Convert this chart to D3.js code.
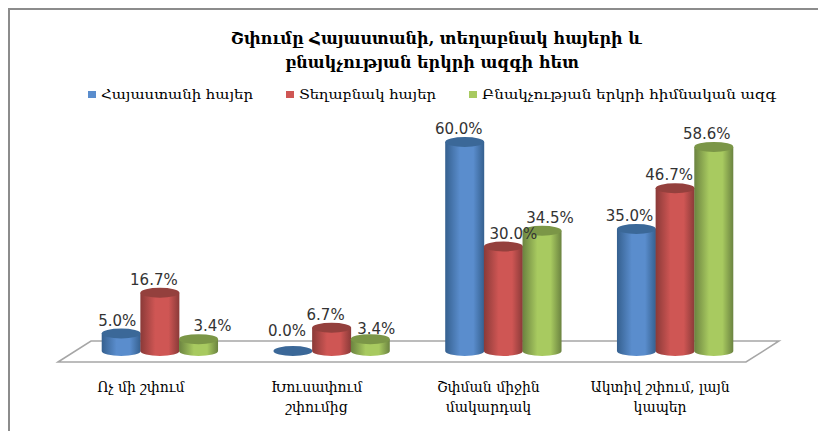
<!DOCTYPE html>
<html>
<head>
<meta charset="utf-8">
<title>Շփումը</title>
<script src="https://d3js.org/d3.v7.min.js"></script>
<style>
    html, body { margin: 0; background: #fff; overflow: hidden; }
    svg { display: block; }
    text { font-family: "DejaVu Serif", serif; fill: #000; }
    .val { font-family: "DejaVu Sans", sans-serif; font-size: 15px; fill: #333; }
</style>
</head>
<body>
<script>
// data
var titleLines = ["Շփումը Հայաստանի, տեղաբնակ հայերի և", "բնակչության երկրի ազգի հետ"];
var series = ["Հայաստանի հայեր", "Տեղաբնակ հայեր", "Բնակչության երկրի հիմնական ազգ"];
var categories = ["Ոչ մի շփում", "Խուսափում շփումից", "Շփման միջին մակարդակ", "Ակտիվ շփում, լայն կապեր"];
var categoryLines = [["Ոչ մի շփում"], ["Խուսափում", "շփումից"], ["Շփման միջին", "մակարդակ"], ["Ակտիվ շփում, լայն", "կապեր"]];
var armenia = [5.0, 0.0, 60.0, 35.0];
var local = [16.7, 6.7, 30.0, 46.7];
var mainNation = [3.4, 3.4, 34.5, 58.6];
var seriesValues = [armenia, local, mainNation];

// label nudges, the original labels were moved by hand
var labelDx = [[-4, -6, -6, -7], [-6, -6, 10, -6], [14, 6, 8, -7]];
var labelDy = [[0, 6, 0, 0], [0, 0, 0, 0], [0, 3, 0, 0]];

var width = 818, height = 431;
var rx = 19.5, ry = 5;
var floorDepthX = 33, floorTop = 341, floorBottom = 362;

var colors = [
    { edge: "#35608f", mid: "#5a8dcd", top: "#3b6898" },
    { edge: "#8a3a38", mid: "#cf5654", top: "#94403d" },
    { edge: "#6b8340", mid: "#a8ca60", top: "#7b9647" }
];

var svg = d3.select("body").append("svg")
    .attr("width", width)
    .attr("height", height);

var x = d3.scaleBand().domain(categories).range([74, 761]);
var xInner = d3.scaleBand().domain(series).range([-58, 58]);
var y = d3.scaleLinear().domain([0, 60]).range([351, 142]);

var defs = svg.append("defs");
colors.forEach(function(c, i) {
    var g = defs.append("linearGradient").attr("id", "cyl" + i);
    g.append("stop").attr("offset", "0%").attr("stop-color", c.edge);
    g.append("stop").attr("offset", "38%").attr("stop-color", c.mid);
    g.append("stop").attr("offset", "72%").attr("stop-color", c.mid);
    g.append("stop").attr("offset", "100%").attr("stop-color", c.edge);
});

// frame
svg.append("path")
    .attr("d", "M9,431V9H818")
    .attr("fill", "none")
    .attr("stroke", "#8c8c8c")
    .attr("stroke-width", 2);

// floor
var floorLeft = x.range()[0] - 16, floorRight = x.range()[1] - 15;
svg.append("path")
    .attr("d", d3.line()([
        [floorLeft, floorBottom], [floorLeft + floorDepthX, floorTop],
        [floorRight + floorDepthX, floorTop], [floorRight, floorBottom]
    ]) + "Z")
    .attr("fill", "#fff")
    .attr("stroke", "#a6a6a6")
    .attr("stroke-width", 1.5);

// cylinders
function cx(i, j) {
    return x(categories[j]) + x.bandwidth() / 2 + xInner(series[i]) + xInner.bandwidth() / 2;
}

seriesValues.forEach(function(values, i) {
    var g = svg.append("g");
    values.forEach(function(v, j) {
        var c = cx(i, j), yTop = y(v), yBase = y(0);
        if (v > 0) {
            g.append("path")
                .attr("d", "M" + (c - rx) + "," + yTop +
                    "V" + yBase +
                    "A" + rx + "," + ry + " 0 0 0 " + (c + rx) + "," + yBase +
                    "V" + yTop + "Z")
                .attr("fill", "url(#cyl" + i + ")");
        }
        g.append("ellipse")
            .attr("cx", c).attr("cy", yTop)
            .attr("rx", rx).attr("ry", ry)
            .attr("fill", colors[i].top);
    });
});

// value labels
seriesValues.forEach(function(values, i) {
    svg.selectAll(".v" + i)
        .data(values)
        .enter()
        .append("text")
        .attr("class", "val v" + i)
        .attr("x", function(d, j) { return cx(i, j) + labelDx[i][j]; })
        .attr("y", function(d, j) { return y(d) - 8 + labelDy[i][j] - (d == 0 ? 13 : 0); })
        .attr("text-anchor", "middle")
        .text(function(d) { return d.toFixed(1) + "%"; });
});

// category labels
categoryLines.forEach(function(lines, j) {
    svg.append("text")
        .attr("text-anchor", "middle")
        .attr("font-size", 14)
        .selectAll("tspan")
        .data(lines)
        .enter()
        .append("tspan")
        .attr("x", x(categories[j]) + x.bandwidth() / 2 - (j == 0 ? 19 : 15))
        .attr("y", function(d, k) { return 392 + k * 20; })
        .text(function(d) { return d; });
});

// title
svg.selectAll(".title")
    .data(titleLines)
    .enter()
    .append("text")
    .attr("class", "title")
    .attr("x", function(d, i) { return i == 0 ? 436 : 432; })
    .attr("y", function(d, i) { return 44 + i * 24; })
    .attr("text-anchor", "middle")
    .attr("font-size", 16)
    .attr("font-weight", "bold")
    .text(function(d) { return d; });

// legend
var legendX = d3.scaleOrdinal().domain(series).range([88, 286, 469]);
var legendLen = [152, 137, 294];
series.forEach(function(s, i) {
    svg.append("rect")
        .attr("x", legendX(s)).attr("y", 91)
        .attr("width", 8).attr("height", 7)
        .attr("fill", colors[i].mid);
    svg.append("text")
        .attr("x", legendX(s) + 13).attr("y", 99)
        .attr("font-size", 13)
        .attr("textLength", legendLen[i])
        .attr("lengthAdjust", "spacingAndGlyphs")
        .text(s);
});
</script>
</body>
</html>
